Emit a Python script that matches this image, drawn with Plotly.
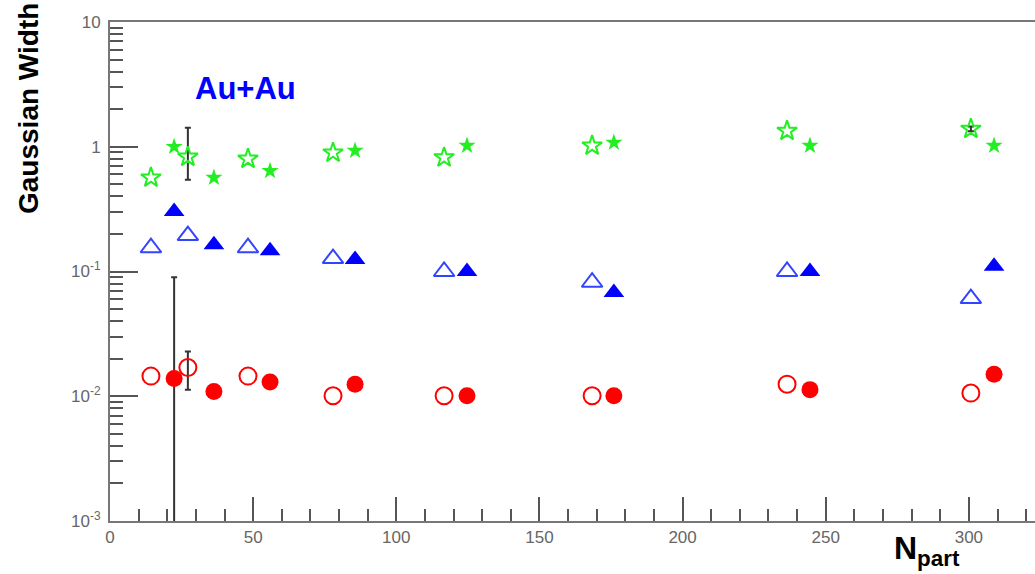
import plotly.graph_objects as go

# N_part positions
npart_open = [14.3, 27.2, 48.2, 77.9, 116.7, 168.4, 236.5, 300.7]
npart_filled = [22.4, 36.3, 55.9, 85.6, 124.7, 176.0, 244.5, 308.8]

# Gaussian widths
star_open = [0.565, 0.83, 0.80, 0.895, 0.82, 1.02, 1.34, 1.39]
star_filled = [1.0, 0.565, 0.64, 0.93, 1.02, 1.08, 1.02, 1.02]
tri_open = [0.155, 0.194, 0.155, 0.127, 0.100, 0.082, 0.100, 0.0607]
tri_filled = [0.302, 0.164, 0.147, 0.125, 0.100, 0.068, 0.100, 0.110]
circ_open = [0.0145, 0.0170, 0.0145, 0.0101, 0.0101, 0.0101, 0.0125, 0.0106]
circ_filled = [0.0139, 0.0109, 0.0130, 0.0125, 0.0101, 0.0101, 0.0113, 0.0150]

# points carrying error bars
err_x = [27.2, 300.7, 27.2, 22.4]
err_y = [0.83, 1.39, 0.0170, 0.0139]
err_plus = [0.59, 0.06, 0.0058, 0.0759]
err_minus = [0.285, 0.06, 0.0057, 0.01389]

ytick_vals = [0.001, 0.01, 0.1, 1, 10]
ytick_text = ["10<sup>-3</sup>", "10<sup>-2</sup>", "10<sup>-1</sup>", "1", "10"]
xtick_vals = [0, 50, 100, 150, 200, 250, 300]

GREEN = "#22ee22"
BLUE = "#0000ff"
BLUE_L = "#3344ff"
RED = "#ff0000"
ERR = "#333333"
FONT = "Liberation Sans, Arial, sans-serif"

fig = go.Figure()

fig.add_trace(go.Scatter(x=err_x, y=err_y, mode="markers",
    marker=dict(size=1, color="rgba(0,0,0,0)"),
    error_y=dict(type="data", array=err_plus, arrayminus=err_minus, symmetric=False,
                 color=ERR, thickness=2, width=3)))
fig.add_trace(go.Scatter(x=npart_open, y=circ_open, mode="markers",
    marker=dict(symbol="circle-open", size=17, color=RED, line=dict(width=2, color=RED))))
fig.add_trace(go.Scatter(x=npart_filled, y=circ_filled, mode="markers",
    marker=dict(symbol="circle", size=17, color=RED)))
fig.add_trace(go.Scatter(x=npart_open, y=tri_open, mode="markers",
    marker=dict(symbol="triangle-up-open", size=18, color=BLUE_L, line=dict(width=2, color=BLUE_L))))
fig.add_trace(go.Scatter(x=npart_filled, y=tri_filled, mode="markers",
    marker=dict(symbol="triangle-up", size=18, color=BLUE)))
fig.add_trace(go.Scatter(x=npart_open, y=star_open, mode="markers",
    marker=dict(symbol="star-open", size=15, color=GREEN, line=dict(width=2, color=GREEN))))
fig.add_trace(go.Scatter(x=npart_filled, y=star_filled, mode="markers",
    marker=dict(symbol="star", size=13, color=GREEN)))

axis_font = dict(family=FONT, size=17, color="#666666")

L, R, T, B = 110, 0, 22, 53
W, H = 1035, 574
pw, ph = W - L - R, H - T - B
def px(xp):
    return (xp - L) / pw
def py(yp):
    return (H - B - yp) / ph

fig.update_layout(
    width=W, height=H,
    margin=dict(l=L, r=R, t=T, b=B),
    paper_bgcolor="white", plot_bgcolor="white",
    showlegend=False,
    xaxis=dict(range=[0, 323.1], tickmode="array", tickvals=xtick_vals,
               ticks="inside", ticklen=24, tickwidth=1.5, tickcolor="#555555",
               minor=dict(dtick=10, ticks="inside", ticklen=12, tickwidth=1.5, tickcolor="#555555"),
               showline=True, linecolor="#777777", linewidth=2, mirror=True,
               showgrid=False, zeroline=False, tickfont=axis_font),
    yaxis=dict(type="log", range=[-3, 1], tickmode="array", tickvals=ytick_vals,
               ticktext=ytick_text,
               ticks="inside", ticklen=28, tickwidth=1.5, tickcolor="#555555",
               minor=dict(dtick="D1", ticks="inside", ticklen=13, tickwidth=1.5, tickcolor="#555555"),
               showline=True, linecolor="#777777", linewidth=2,
               showgrid=False, zeroline=False, tickfont=axis_font,
               ticklabelstandoff=4),
    annotations=[
        dict(text="<b>Au+Au</b>", x=px(245), y=py(88), xref="paper", yref="paper",
             xanchor="center", yanchor="middle", showarrow=False,
             font=dict(family=FONT, size=31, color=BLUE)),
        dict(text="<b>Gaussian Width</b>", xref="paper", yref="paper", showarrow=False,
             textangle=-90, x=px(29), y=py(109), xanchor="center", yanchor="middle",
             font=dict(family=FONT, size=28, color="black")),
        dict(text="<b>N<sub>part</sub></b>", xref="paper", yref="paper", showarrow=False,
             x=px(927), y=py(550), xanchor="center", yanchor="middle",
             font=dict(family=FONT, size=32, color="black")),
    ],
)

fig.write_html("out.html")
